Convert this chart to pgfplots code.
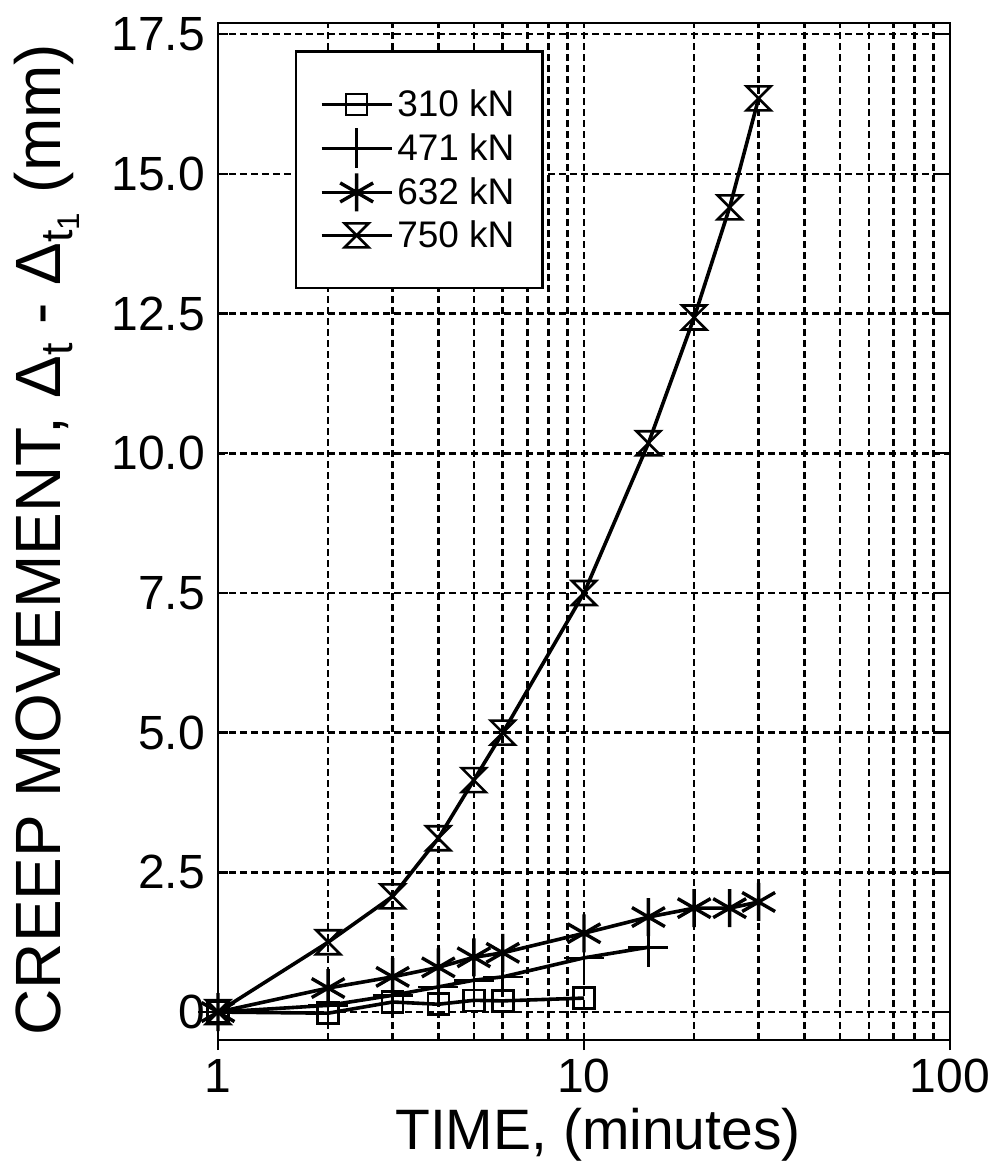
\documentclass[border=0pt]{standalone}
\usepackage{fontspec}
\setmainfont{Liberation Sans}
\usepackage{pgfplots}
\pgfplotsset{compat=1.18}

\pgfdeclareplotmark{hourglass}{%
  \pgfpathmoveto{\pgfqpoint{-\pgfplotmarksize}{\pgfplotmarksize}}%
  \pgfpathlineto{\pgfqpoint{\pgfplotmarksize}{\pgfplotmarksize}}%
  \pgfpathlineto{\pgfqpoint{-\pgfplotmarksize}{-\pgfplotmarksize}}%
  \pgfpathlineto{\pgfqpoint{\pgfplotmarksize}{-\pgfplotmarksize}}%
  \pgfpathclose
  \pgfusepathqstroke
}

\begin{document}
\begin{tikzpicture}
\begin{axis}[
  name=ax,
  scale only axis,
  width=366pt, height=508.5pt,
  xmode=log,
  xmin=1, xmax=100,
  ymin=-0.5, ymax=17.7,
  log basis x=10,
  xtick={1,10,100},
  xticklabels={1,10,100},
  minor xtick={2,3,4,5,6,7,8,9,20,30,40,50,60,70,80,90},
  ytick={0,2.5,5,7.5,10,12.5,15,17.5},
  yticklabels={0,2.5,5.0,7.5,10.0,12.5,15.0,17.5},
  xmajorgrids, xminorgrids, ymajorgrids,
  grid style={black, line width=1.3pt, dash pattern=on 3.5pt off 2pt},
  minor grid style={black, line width=1.3pt, dash pattern=on 3.5pt off 2pt},
  axis line style={line width=1.2pt},
  every tick/.style={black, line width=1.2pt},
  xtick align=outside,
  ytick align=inside,
  major tick length=5pt,
  minor tick length=0pt,
  xtick pos=bottom,
  ytick pos=both,
  ticklabel style={font=\fontsize{24}{28}\selectfont},
  xticklabel style={yshift=-1pt},
  yticklabel style={xshift=-3pt},
  xlabel={TIME, (minutes)},
  xlabel style={at={(axis description cs:0.519,-0.0934)}, anchor=center, font=\fontsize{28.5}{32}\selectfont},
  ylabel={CREEP MOVEMENT, Δ\textsubscript{t} - Δ\textsubscript{t\textsubscript{1}} (mm)},
  ylabel style={at={(axis description cs:-0.2336,0.492)}, anchor=center, font=\fontsize{32}{36}\selectfont},
  clip=false,
  legend style={at={(0.105,0.973)}, anchor=north west, draw=black, line width=1.2pt,
    font=\fontsize{18.5}{22.5}\selectfont, inner xsep=12pt, inner ysep=17pt,
    row sep=2.5pt, cells={anchor=west}},
  legend image code/.code={%
    \draw[mark repeat=2, mark phase=2, line width=1.6pt] plot coordinates {(0pt,0pt) (17.5pt,0pt) (35pt,0pt)};},
  every axis plot/.append style={black, line width=1.8pt, mark options={solid, line width=1.3pt}},
]
\addplot[mark=square, mark size=5.25pt] coordinates {
  (1,0) (2,-0.02) (3,0.18) (4,0.14) (5,0.21) (6,0.2) (10,0.25)
};
\addlegendentry{310 kN}
\addplot[mark=+, mark size=10pt] coordinates {
  (1,0) (2,0.12) (3,0.3) (4,0.45) (5,0.57) (6,0.63) (10,0.97) (15,1.16)
};
\addlegendentry{471 kN}
\addplot[mark=asterisk, mark size=9.5pt, mark options={line width=1.7pt}] coordinates {
  (1,0) (2,0.43) (3,0.63) (4,0.8) (5,0.98) (6,1.06) (10,1.41) (15,1.7) (20,1.86) (25,1.86) (30,1.97)
};
\addlegendentry{632 kN}
\addplot[mark=hourglass, mark size=6pt] coordinates {
  (1,0) (2,1.25) (3,2.07) (4,3.11) (5,4.15) (6,5.0) (10,7.5) (15,10.18) (20,12.43) (25,14.4) (30,16.35)
};
\addlegendentry{750 kN}
\end{axis}
\path ([xshift=-109pt,yshift=-68pt]ax.south west) rectangle ([xshift=24.5pt,yshift=11.5pt]ax.north east);
\end{tikzpicture}
\end{document}
